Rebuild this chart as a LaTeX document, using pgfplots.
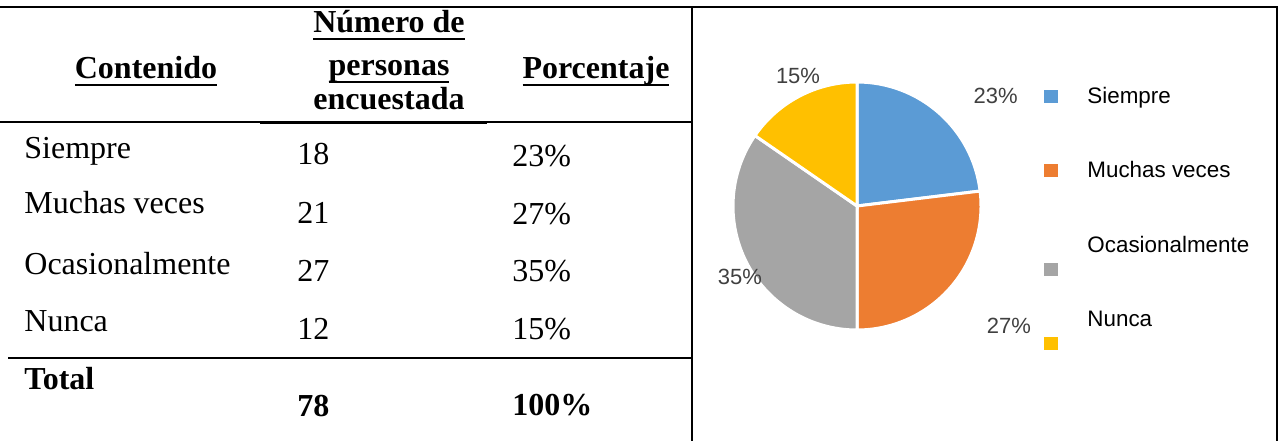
\documentclass[border=0pt]{standalone}
\usepackage{pgfplots}
\pgfplotsset{compat=1.18}
\usepackage{pgfplotstable}
\usepackage{fontspec}
\setmainfont{Liberation Serif}
\newfontfamily\arial{Liberation Sans}

\definecolor{pie0}{HTML}{5B9BD5}
\definecolor{pie1}{HTML}{ED7D31}
\definecolor{pie2}{HTML}{A5A5A5}
\definecolor{pie3}{HTML}{FFC000}
\definecolor{lblgray}{HTML}{404040}

% survey answers; lang/ldist = where the % label sits (deg, pt from centre)
\pgfplotstableread[col sep=comma]{
cat,n,lang,ldist
Siempre,18,38.4,88.5
Muchas veces,21,-38.3,96.8
Ocasionalmente,27,211.3,68.5
Nunca,12,114.4,71.4
}\piedata

% slice angles from the counts, clockwise from the top
\pgfmathsetmacro\total{0}%
\pgfplotsforeachungrouped \i in {0,...,3}{%
  \pgfplotstablegetelem{\i}{n}\of\piedata
  \pgfmathsetmacro\total{\total+\pgfplotsretval}%
}%
\def\curang{90}%
\pgfplotsforeachungrouped \i in {0,...,3}{%
  \pgfplotstablegetelem{\i}{n}\of\piedata
  \let\nval\pgfplotsretval
  \pgfmathsetmacro\slicespan{360*\nval/\total}%
  \expandafter\xdef\csname sa\i\endcsname{\curang}%
  \pgfmathsetmacro\curang{\curang-\slicespan}%
  \expandafter\xdef\csname ea\i\endcsname{\curang}%
  \pgfmathtruncatemacro\tmp{round(100*\nval/\total)}%
  \expandafter\xdef\csname pc\i\endcsname{\tmp}%
  \pgfplotstablegetelem{\i}{lang}\of\piedata
  \expandafter\xdef\csname la\i\endcsname{\pgfplotsretval}%
  \pgfplotstablegetelem{\i}{ldist}\of\piedata
  \expandafter\xdef\csname ld\i\endcsname{\pgfplotsretval}%
}%
\newcommand\pv[2]{\csname #1#2\endcsname}
% underline sitting close under the text
\newcommand\ul[1]{\setbox0\hbox{#1}\rlap{\rule[-0.26em]{\wd0}{0.065em}}\box0}

\begin{document}
\begin{tikzpicture}[x=0.5pt,y=0.5pt,
  body/.style={font=\fontsize{16}{19}\selectfont, inner sep=0pt, anchor=base west},
  head/.style={font=\fontsize{16}{19}\selectfont\bfseries, inner sep=0pt, anchor=base}]
\path[use as bounding box] (0,0) rectangle (1278,441);

% frame and rules
\draw[line width=1.3pt] (0,434) -- (1278,434);
\draw[line width=1.2pt] (692,434) -- (692,0);
\draw[line width=1.2pt] (1277,434) -- (1277,0);
\draw[line width=1.3pt] (0,319) -- (692,319);
\draw[line width=1.3pt] (260,318) -- (487,318);
\draw[line width=1.2pt] (8,83) -- (692,83);

% table header
\node[head] at (146,363) {\ul{Contenido}};
\node[head] at (389,409) {\ul{Número de}};
\node[head] at (389,366) {\ul{personas}};
\node[head] at (389,332) {encuestada};
\node[head] at (596,363) {\ul{Porcentaje}};

% table body
\node[body] at (24,283) {Siempre};
\node[body] at (297,277) {18};
\node[body] at (512,275) {23\%};
\node[body] at (24,228) {Muchas veces};
\node[body] at (297,218) {21};
\node[body] at (512,217) {27\%};
\node[body] at (24,167) {Ocasionalmente};
\node[body] at (297,160) {27};
\node[body] at (512,160) {35\%};
\node[body] at (24,110) {Nunca};
\node[body] at (297,102) {12};
\node[body] at (512,102) {15\%};
\node[body, font=\fontsize{16}{19}\selectfont\bfseries] at (24,52) {Total};
\node[body, font=\fontsize{16}{19}\selectfont\bfseries] at (297,25) {78};
\node[body, font=\fontsize{16}{19}\selectfont\bfseries] at (512,26) {100\%};

% pie
\begin{axis}[
    at={(428.5pt,117.5pt)}, anchor=center,
    scale only axis, width=124pt, height=124pt,
    xmin=-1, xmax=1, ymin=-1, ymax=1,
    hide axis, clip=false]
\pgfplotsinvokeforeach{0,...,3}{%
  \fill[pie#1, draw=white, line width=1.5pt] (axis cs:0,0)
    -- +(\pv{sa}{#1}:62pt)
    arc[start angle=\pv{sa}{#1}, end angle=\pv{ea}{#1}, radius=62pt] -- cycle;
  \node[font=\arial\fontsize{11}{13}\selectfont, text=lblgray, inner sep=0pt]
    at ([shift={(\pv{la}{#1}:\pv{ld}{#1}pt)}]axis cs:0,0) {\pv{pc}{#1}\%};
}
\end{axis}

% legend
\foreach \i/\sy/\ty in {0/96/103, 1/170/177, 2/269/252, 3/343/326}{
  \fill[pie\i] (1044,{441-\sy-6.5}) rectangle ++(14,13);
  \pgfplotstablegetelem{\i}{cat}\of\piedata
  \node[anchor=base west, inner sep=0pt, font=\arial\fontsize{11.2}{13}\selectfont]
    at (1087,{441-\ty}) {\pgfplotsretval};
}
\end{tikzpicture}
\end{document}
